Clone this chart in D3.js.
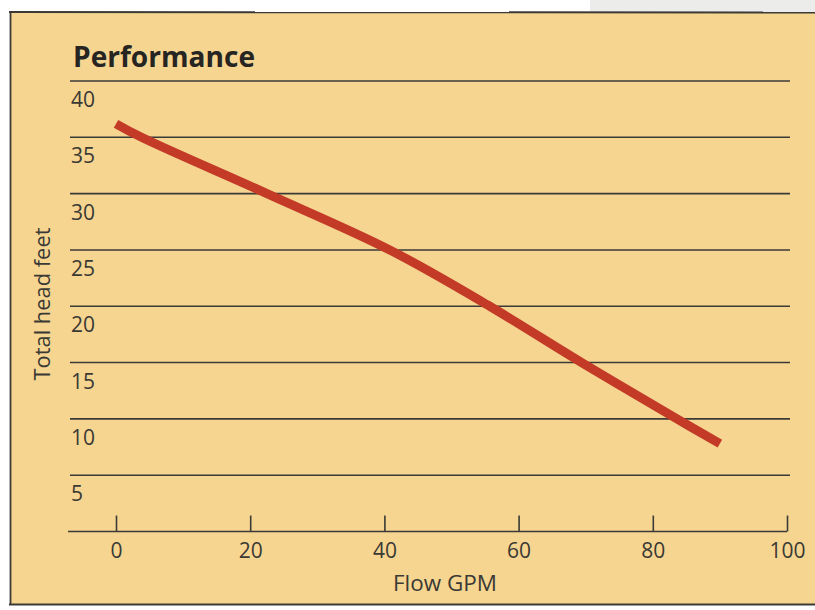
<!DOCTYPE html>
<html>
<head>
<meta charset="utf-8">
<script src="https://cdn.jsdelivr.net/npm/d3@7"></script>
<style>
  html, body { margin: 0; padding: 0; background: #ffffff; }
  svg { display: block; }
  text { font-family: "Open Sans", "Noto Sans", sans-serif; }
</style>
</head>
<body>
<svg id="chart" width="815" height="610"></svg>
<script>
// ---- data ----
const title = "Performance";
const xLabel = "Flow GPM";
const yLabel = "Total head feet";
const xTicks = [0, 20, 40, 60, 80, 100];
const yTicks = [5, 10, 15, 20, 25, 30, 35, 40];
const flowGPM = [0, 3.8, 22.5, 40.8, 55.7, 69.4, 83.6, 90];
const headFeet = [36.2, 35, 30, 25, 20, 15, 10, 7.8];

// ---- layout ----
const W = 815, H = 610;
const svg = d3.select("#chart");

// page / card
svg.append("rect").attr("x", 0).attr("y", 0).attr("width", W).attr("height", H).attr("fill", "#ffffff");
svg.append("rect").attr("x", 590).attr("y", 0).attr("width", 225).attr("height", 13).attr("fill", "#ececea");
svg.append("rect").attr("x", 10).attr("y", 12).attr("width", W - 10).attr("height", 593).attr("fill", "#f6d591");
// card borders
svg.append("line").attr("x1", 9).attr("x2", W).attr("y1", 12).attr("y2", 12.5).attr("stroke", "#3b3a36").attr("stroke-width", 2);
svg.append("line").attr("x1", 10.5).attr("x2", 10.5).attr("y1", 12).attr("y2", 605).attr("stroke", "#3b3a36").attr("stroke-width", 1.8);
svg.append("line").attr("x1", 9).attr("x2", W).attr("y1", 604.5).attr("y2", 604.5).attr("stroke", "#3b3a36").attr("stroke-width", 2);

const x = d3.scaleLinear().domain([0, 100]).range([116, 787]);
const y = d3.scaleLinear().domain([0, 40]).range([531.5, 81]);

const ink = "#3a3a37";
const textInk = "#3a3934";

// horizontal grid lines
const grid = svg.append("g").attr("class", "grid");
grid.selectAll("line").data(yTicks).enter().append("line")
  .attr("x1", 70).attr("x2", 790)
  .attr("y1", d => y(d)).attr("y2", d => y(d))
  .attr("stroke", ink).attr("stroke-width", 1.6);

// y tick labels (below each grid line)
svg.append("g").selectAll("text").data(yTicks).enter().append("text")
  .attr("x", 71).attr("y", d => y(d) + 26)
  .attr("font-size", 21).attr("fill", textInk)
  .text(d => d);

// x axis
const xAxis = d3.axisBottom(x).tickValues(xTicks).tickSize(-16).tickPadding(10).tickFormat(d => d);
const gx = svg.append("g").attr("transform", `translate(0,${y(0)})`).call(xAxis);
gx.select(".domain").remove();
gx.insert("line", ":first-child").attr("x1", 68).attr("x2", x(100)).attr("y1", 0).attr("y2", 0)
  .attr("stroke", ink).attr("stroke-width", 1.6);
gx.selectAll(".tick line").attr("stroke", ink).attr("stroke-width", 1.6);
gx.selectAll(".tick text").attr("font-size", 21).attr("fill", textInk)
  .attr("font-family", "'Open Sans', sans-serif").attr("dy", null).attr("y", 26);

// curve
const line = d3.line().x((d, i) => x(flowGPM[i])).y(d => y(d)).curve(d3.curveCatmullRom.alpha(0.5));
svg.append("path").datum(headFeet)
  .attr("d", line)
  .attr("fill", "none").attr("stroke", "#c33a27").attr("stroke-width", 9)
  .attr("stroke-linecap", "butt");

// helper to fit text width
function fit(sel, target) {
  const n = sel.node();
  const w = n.getComputedTextLength();
  const fs = parseFloat(sel.attr("font-size"));
  sel.attr("font-size", (fs * target / w).toFixed(2));
}

// title
const t = svg.append("text").attr("x", 73).attr("y", 67)
  .attr("font-size", 28).attr("font-weight", 700).attr("fill", "#262522")
  .text(title);
fit(t, 182);

// x label
const xl = svg.append("text").attr("x", 445).attr("y", 591).attr("text-anchor", "middle")
  .attr("font-size", 21).attr("fill", textInk).text(xLabel);
fit(xl, 104);

// y label
const yl = svg.append("text").attr("transform", "translate(50,304) rotate(-90)")
  .attr("text-anchor", "middle").attr("font-size", 21).attr("fill", textInk).text(yLabel);
fit(yl, 153);
</script>
</body>
</html>
